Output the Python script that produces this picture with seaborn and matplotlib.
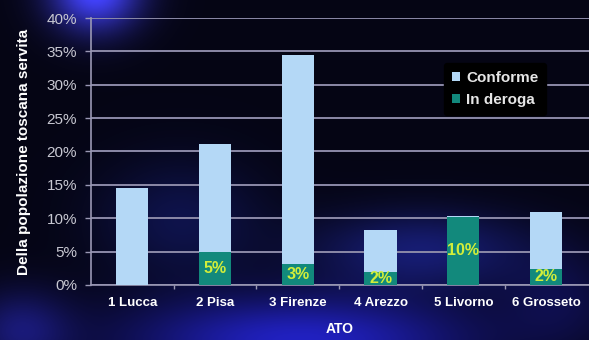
import numpy as np
import pandas as pd
import matplotlib
matplotlib.use("Agg")
import matplotlib.pyplot as plt
import seaborn as sns
from matplotlib.ticker import PercentFormatter

categories = ["1 Lucca", "2 Pisa", "3 Firenze", "4 Arezzo", "5 Livorno", "6 Grosseto"]
conforme = [14.5, 16.1, 31.3, 6.2, 0.2, 8.5]
in_deroga = [0.0, 5.0, 3.2, 2.0, 10.2, 2.4]
deroga_labels = ["", "5%", "3%", "2%", "10%", "2%"]

totals = [c + d for c, d in zip(conforme, in_deroga)]
df = pd.DataFrame({"ATO": categories, "total": totals, "deroga": in_deroga})

sns.set_theme(style="dark")
plt.rcParams["font.family"] = ["Liberation Sans", "DejaVu Sans"]

W, H = 589, 340
fig = plt.figure(figsize=(W / 100, H / 100), dpi=100)

# decorative dark-blue background
bg = fig.add_axes([0, 0, 1, 1], zorder=-10)
yy, xx = np.mgrid[0:H, 0:W]
img = np.zeros((H, W, 3))
img[..., 0] = 0.02
img[..., 1] = 0.02
img[..., 2] = 0.08
def blob(cx, cy, sx, sy, amp, col):
    g = amp * np.exp(-(((xx - cx) / sx) ** 2 + ((yy - cy) / sy) ** 2))
    for i in range(3):
        img[..., i] += g * col[i]
blob(95, -10, 45, 40, 1.0, (0.25, 0.25, 0.95))
blob(300, 340, 170, 45, 0.9, (0.12, 0.12, 0.75))
blob(420, 250, 110, 40, 0.45, (0.15, 0.2, 0.8))
blob(180, 220, 80, 60, 0.35, (0.1, 0.15, 0.6))
blob(20, 330, 50, 40, 0.5, (0.15, 0.15, 0.7))
blob(560, 300, 60, 50, 0.3, (0.1, 0.1, 0.6))
img = np.clip(img, 0, 1)
bg.imshow(img, aspect="auto", extent=[0, 1, 0, 1])
bg.axis("off")
fig.patch.set_facecolor("#040410")

ax = fig.add_axes([0.1545, 0.162, 0.8455, 0.785])
ax.set_facecolor("none")

sns.barplot(data=df, x="ATO", y="total", color="#b4d8f6", width=0.39,
            saturation=1, ax=ax, zorder=3, label="Conforme", linewidth=0)
sns.barplot(data=df, x="ATO", y="deroga", color="#12897c", width=0.39,
            saturation=1, ax=ax, zorder=4, label="In deroga", linewidth=0)

for i, (d, lab) in enumerate(zip(in_deroga, deroga_labels)):
    if lab:
        ax.text(i, d / 2, lab, ha="center", va="center", color="#d2ee3a",
                fontsize=11.5, fontweight="bold", zorder=5)

ax.set_ylim(0, 40)
ax.set_xlim(-0.5, 5.52)
ax.set_yticks(np.arange(0, 41, 5))
ax.yaxis.set_major_formatter(PercentFormatter(decimals=0))
ax.grid(axis="y", color="#8c8aa8", linewidth=1.4, zorder=1)
ax.grid(axis="x", visible=False)
ax.set_axisbelow(True)
for s in ["top", "right"]:
    ax.spines[s].set_visible(False)
ax.spines["left"].set_color("#9a98b4")
ax.spines["bottom"].set_color("#9a98b4")
ax.spines["left"].set_linewidth(1.2)
ax.spines["bottom"].set_linewidth(1.2)

ax.tick_params(axis="y", colors="#9a98b4", labelcolor="#c8c8d2", labelsize=11,
               length=4, width=1, left=True, pad=6)
ax.tick_params(axis="x", colors="white", labelsize=9.5, length=0, pad=9)
for t in ax.get_xticklabels():
    t.set_fontweight("bold")
# category boundary ticks
ax.set_xticks(np.arange(0.5, 5.5, 1), minor=True)
ax.tick_params(axis="x", which="minor", length=3, color="#9a98b4", bottom=True)

ax.set_xlabel("ATO", color="white", fontsize=10, fontweight="bold", labelpad=9)
ax.set_ylabel("Della popolazione toscana servita", color="white", fontsize=11,
              fontweight="bold", labelpad=11)

leg = ax.legend(loc="upper left", bbox_to_anchor=(0.694, 0.86), frameon=True,
                facecolor="black", edgecolor="black", framealpha=1,
                fontsize=11, handlelength=0.5, handleheight=0.5,
                handletextpad=0.45, labelspacing=0.55, borderpad=0.5)
for t in leg.get_texts():
    t.set_color("#e6e6e6")
    t.set_fontweight("bold")
leg.set_zorder(6)

fig.savefig("out.png", dpi=100, facecolor=fig.get_facecolor())
